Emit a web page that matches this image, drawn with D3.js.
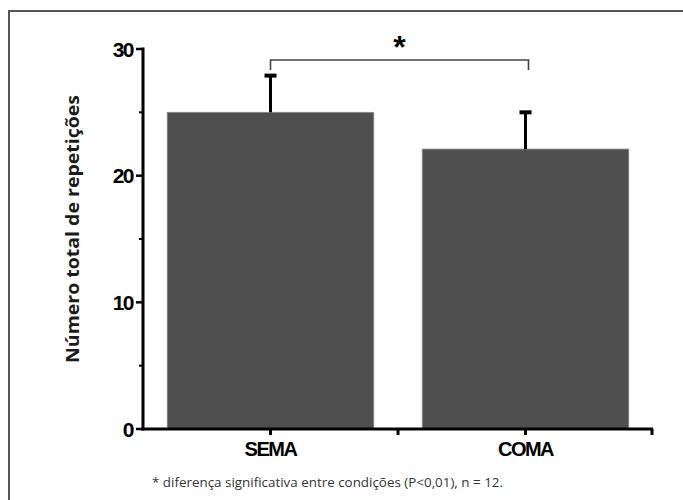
<!DOCTYPE html>
<html>
<head>
<meta charset="utf-8">
<script src="https://cdn.jsdelivr.net/npm/d3@7"></script>
<style>
  body { margin: 0; background: #fff; }
</style>
</head>
<body>
<div id="graph"></div>
<script>
// chart data
var categories = ["SEMA", "COMA"];
var means = [25.0, 22.1];
var errors = [2.9, 2.9];
var yTicks = [0, 10, 20, 30];
var yMinorTicks = [5, 15, 25];
var sigPair = ["SEMA", "COMA"];
var caption = "* diferença significativa entre condições (P<0,01), n = 12.";

window.onload = start;

function start() {
    var width = 683;
    var height = 500;

    var svg = d3.select("#graph")
        .append("svg")
        .attr("width", width)
        .attr("height", height);

    // outer frame
    svg.append("rect")
        .attr("x", 9).attr("y", 11)
        .attr("width", 700).attr("height", 520)
        .attr("fill", "none")
        .attr("stroke", "#555")
        .attr("stroke-width", 2);

    var left = 143, right = 653, top = 49, bottom = 429;

    var x = d3.scaleBand()
        .domain(categories)
        .range([left, right])
        .paddingInner(0.19)
        .paddingOuter(0.095);

    // axis ticks sit at band centres / boundaries of an unpadded band
    var xTickScale = d3.scaleBand()
        .domain(categories)
        .range([left, right]);

    var y = d3.scaleLinear()
        .domain([0, 30])
        .range([bottom, top]);

    // bars
    svg.selectAll(".bar")
        .data(categories)
        .enter()
        .append("rect")
        .attr("class", "bar")
        .attr("x", function(d) { return x(d); })
        .attr("y", function(d, i) { return y(means[i]); })
        .attr("width", x.bandwidth())
        .attr("height", function(d, i) { return y(0) - y(means[i]); })
        .attr("fill", "#4f4f4f")
        .attr("stroke", "#8a8a8a")
        .attr("stroke-width", 0.8);

    // error bars (upper only)
    var eb = svg.selectAll(".err")
        .data(categories)
        .enter()
        .append("g")
        .attr("class", "err");
    eb.append("line")
        .attr("x1", function(d) { return x(d) + x.bandwidth() / 2; })
        .attr("x2", function(d) { return x(d) + x.bandwidth() / 2; })
        .attr("y1", function(d, i) { return y(means[i]); })
        .attr("y2", function(d, i) { return y(means[i] + errors[i]); })
        .attr("stroke", "#000")
        .attr("stroke-width", 3);
    eb.append("line")
        .attr("x1", function(d) { return x(d) + x.bandwidth() / 2 - 6; })
        .attr("x2", function(d) { return x(d) + x.bandwidth() / 2 + 6; })
        .attr("y1", function(d, i) { return y(means[i] + errors[i]); })
        .attr("y2", function(d, i) { return y(means[i] + errors[i]); })
        .attr("stroke", "#000")
        .attr("stroke-width", 4);

    // y axis
    var yAxis = svg.append("g").attr("transform", "translate(" + left + ",0)");
    yAxis.append("line")
        .attr("x1", 0).attr("x2", 0)
        .attr("y1", y(30) - 1.5).attr("y2", y(0) + 1.5)
        .attr("stroke", "#000").attr("stroke-width", 3);
    yAxis.selectAll(".maj")
        .data(yTicks)
        .enter()
        .append("line")
        .attr("x1", -7).attr("x2", 0)
        .attr("y1", function(d) { return y(d); })
        .attr("y2", function(d) { return y(d); })
        .attr("stroke", "#000").attr("stroke-width", 2.5);
    yAxis.selectAll(".minor")
        .data(yMinorTicks)
        .enter()
        .append("line")
        .attr("x1", -4).attr("x2", 0)
        .attr("y1", function(d) { return y(d); })
        .attr("y2", function(d) { return y(d); })
        .attr("stroke", "#000").attr("stroke-width", 2);
    yAxis.selectAll(".lbl")
        .data(yTicks)
        .enter()
        .append("text")
        .attr("x", -10)
        .attr("y", function(d) { return y(d); })
        .attr("dy", "0.36em")
        .attr("text-anchor", "end")
        .attr("font-family", "Liberation Sans, Arial, sans-serif")
        .attr("font-weight", "bold")
        .attr("font-size", 21)
        .attr("letter-spacing", -1.5)
        .text(function(d) { return d; });

    // x axis
    var xAxis = svg.append("g").attr("transform", "translate(0," + bottom + ")");
    xAxis.append("line")
        .attr("x1", left - 1.5).attr("x2", right)
        .attr("y1", 0).attr("y2", 0)
        .attr("stroke", "#000").attr("stroke-width", 3);
    var xTickPos = categories.map(function(c) { return xTickScale(c) + xTickScale.bandwidth() / 2; });
    xTickPos.push(xTickScale(categories[1]));
    xTickPos.push(right - 1);
    xAxis.selectAll(".xt")
        .data(xTickPos)
        .enter()
        .append("line")
        .attr("x1", function(d) { return d; })
        .attr("x2", function(d) { return d; })
        .attr("y1", 0).attr("y2", 6)
        .attr("stroke", "#000").attr("stroke-width", 3);
    xAxis.selectAll(".xl")
        .data(categories)
        .enter()
        .append("text")
        .attr("x", function(d) { return xTickScale(d) + xTickScale.bandwidth() / 2; })
        .attr("y", 27)
        .attr("text-anchor", "middle")
        .attr("font-family", "Liberation Sans, Arial, sans-serif")
        .attr("font-weight", "bold")
        .attr("font-size", 20)
        .attr("letter-spacing", -1.5)
        .text(function(d) { return d; });

    // significance bracket
    var bx1 = x(sigPair[0]) + x.bandwidth() / 2;
    var bx2 = x(sigPair[1]) + x.bandwidth() / 2 + 3;
    svg.append("path")
        .attr("d", "M" + bx1 + ",70 V60 H" + bx2 + " V70")
        .attr("fill", "none")
        .attr("stroke", "#444")
        .attr("stroke-width", 1.6);
    svg.append("text")
        .attr("x", (bx1 + bx2) / 2)
        .attr("y", 58)
        .attr("text-anchor", "middle")
        .attr("font-family", "Liberation Sans, Arial, sans-serif")
        .attr("font-weight", "bold")
        .attr("font-size", 32)
        .text("*");

    // y axis title
    svg.append("text")
        .attr("transform", "translate(79,229) rotate(-90)")
        .attr("text-anchor", "middle")
        .attr("font-family", "Open Sans, sans-serif")
        .attr("font-weight", "bold")
        .attr("font-size", 18)
        .attr("fill", "#1a1a1a")
        .attr("textLength", 268)
        .attr("lengthAdjust", "spacingAndGlyphs")
        .text("Número total de repetições");

    // caption
    svg.append("text")
        .attr("x", 152)
        .attr("y", 487)
        .attr("font-family", "Open Sans, sans-serif")
        .attr("font-size", 12)
        .attr("fill", "#333")
        .attr("textLength", 351)
        .attr("lengthAdjust", "spacingAndGlyphs")
        .text(caption);
}
</script>
</body>
</html>
